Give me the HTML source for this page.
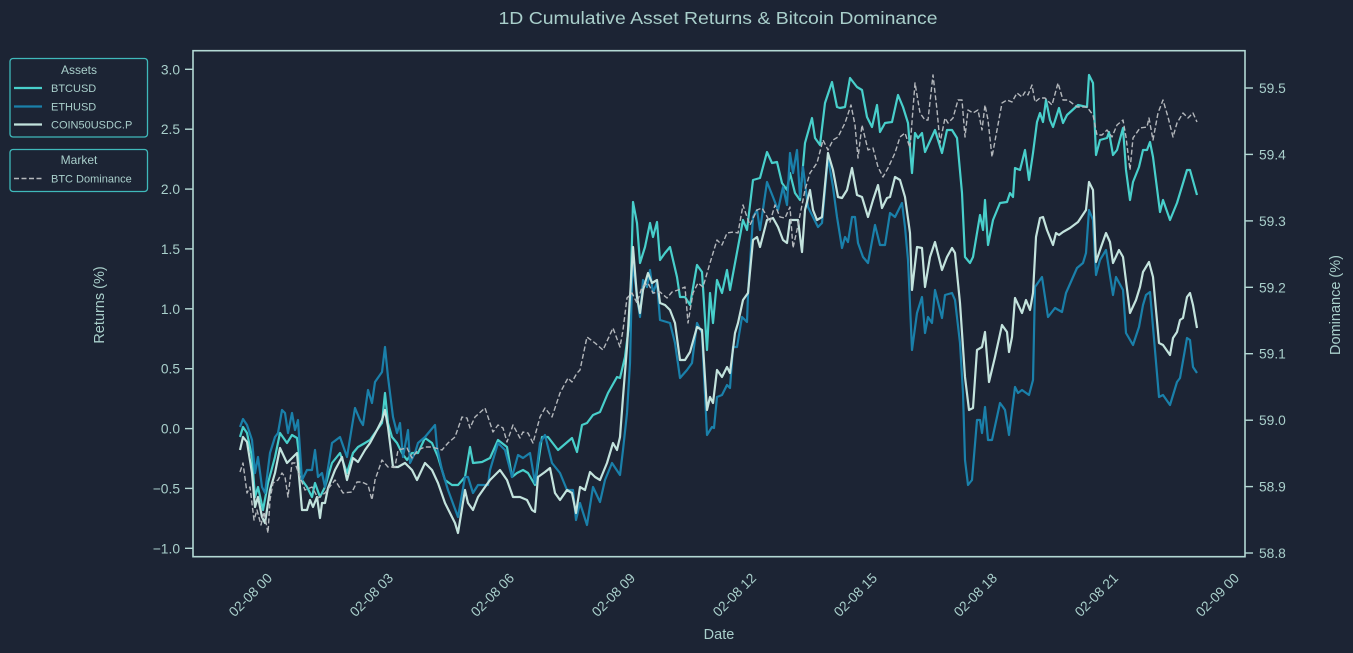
<!DOCTYPE html>
<html><head><meta charset="utf-8"><style>
html,body{margin:0;padding:0;background:#1c2434;}
svg{display:block;}
text{font-family:"Liberation Sans",Arial,sans-serif;fill:#a9cfcb;}
</style></head><body>
<svg width="1353" height="653" viewBox="0 0 1353 653" xmlns="http://www.w3.org/2000/svg">
<rect x="0" y="0" width="1353" height="653" fill="#1c2434"/>
<text x="718" y="24" font-size="17.5" text-anchor="middle" textLength="439" lengthAdjust="spacingAndGlyphs">1D Cumulative Asset Returns &amp; Bitcoin Dominance</text>

<!-- series -->
<g fill="none" stroke-linejoin="round" stroke-width="2.2">
<polyline stroke="#48cfcb" points="240,437 243,427 247,433 252,457 255,497 258,487 263,510 268,483 275,457 280,433 287,443 292,435 297,438 302,480 307,487 312,497 315,483 320,497 325,487 332,463 340,453 347,473 353,453 358,447 365,443 370,440 377,430 382,423 385,393 388,423 392,437 397,443 402,453 407,460 412,453 418,453 425,438 432,443 438,457 445,480 452,485 458,485 465,477 470,447 473,463 482,462 490,458 498,440 507,447 512,477 517,473 523,470 528,473 535,485 542,437 548,437 558,450 572,438 577,452 582,425 587,423 593,415 600,412 608,393 617,377 620,378 625,357 630,317 633,202 637,223 640,263 645,247 650,223 653,237 657,222 660,260 665,253 670,247 677,277 680,297 685,297 690,305 697,265 702,272 707,350 710,293 713,323 717,280 722,293 727,270 730,290 738,247 743,220 747,230 753,180 760,178 767,152 772,163 777,162 782,183 787,190 790,173 795,193 800,200 805,143 812,118 815,138 820,145 825,103 832,82 837,107 840,108 845,107 850,78 857,87 862,90 867,117 872,127 877,105 880,132 885,123 892,122 898,95 903,107 908,123 912,173 915,133 918,138 922,133 925,152 935,130 942,153 947,130 952,130 957,138 962,193 965,257 970,263 973,257 980,215 983,230 985,200 988,245 993,220 1000,203 1007,202 1010,193 1013,197 1015,168 1020,170 1025,150 1029,180 1033,153 1037,122 1040,113 1043,122 1046,100 1050,120 1053,127 1059,108 1063,123 1067,115 1078,105 1087,107 1089,75 1093,83 1096,155 1100,140 1107,138 1109,132 1113,155 1117,150 1123,128 1126,170 1130,200 1133,182 1139,167 1143,150 1147,150 1150,142 1153,157 1160,212 1163,200 1170,220 1177,203 1187,170 1190,170 1197,195"/>
<polyline stroke="#1a80aa" points="240,427 243,419 247,425 252,440 255,473 258,457 262,487 265,493 270,453 275,437 278,433 282,410 285,413 288,433 292,413 295,430 298,420 302,480 307,470 312,470 315,450 318,477 322,473 325,487 332,443 340,437 347,457 355,408 360,420 363,425 368,390 372,403 375,382 382,372 385,347 388,377 393,417 397,433 400,423 403,457 408,430 410,463 415,453 418,443 425,437 435,425 437,447 442,470 448,490 458,517 465,477 468,477 473,493 478,485 488,485 490,470 498,443 505,450 512,477 518,455 523,458 530,453 535,483 540,443 545,435 552,463 560,473 567,490 573,490 576,520 580,503 587,525 593,487 600,502 605,480 612,463 620,475 623,450 627,413 630,363 632,280 633,263 637,297 640,317 643,280 647,287 650,270 653,293 657,282 660,320 670,323 675,343 680,378 687,370 692,363 697,323 702,333 707,435 712,427 714,428 717,397 722,395 727,385 730,388 733,347 737,347 742,317 747,322 748,295 753,217 757,210 760,230 767,182 773,197 778,210 783,187 787,205 790,153 793,173 797,150 800,197 803,167 808,207 813,217 818,227 822,223 828,157 833,187 837,217 842,248 845,237 848,242 852,217 855,217 858,243 863,257 868,263 875,225 880,245 885,245 890,213 895,217 902,203 905,227 908,260 912,350 917,313 922,297 925,333 928,317 932,323 935,290 942,318 945,295 952,293 955,300 960,343 963,393 965,460 968,485 972,480 977,420 980,420 982,433 985,407 988,440 992,440 1000,403 1003,407 1005,410 1009,435 1015,387 1018,393 1022,390 1029,395 1033,380 1035,287 1042,277 1048,317 1055,308 1062,312 1066,293 1077,268 1083,263 1086,253 1089,210 1093,220 1096,275 1100,260 1106,250 1113,295 1116,277 1123,290 1126,333 1133,345 1139,327 1143,305 1146,295 1150,292 1159,397 1163,395 1170,405 1177,382 1180,378 1187,338 1190,340 1193,367 1197,373"/>
<polyline stroke="#c3e3dd" points="240,450 243,437 247,442 252,473 255,507 258,497 262,517 265,523 270,490 275,473 280,448 287,463 297,453 302,510 307,510 310,500 313,507 317,497 320,518 322,503 325,503 328,488 335,470 342,457 347,480 353,458 358,462 365,450 370,443 377,430 382,420 385,410 388,427 393,467 398,467 405,463 412,470 417,480 425,463 432,470 438,483 445,503 455,523 458,533 465,490 468,503 473,510 478,497 485,487 490,480 500,470 507,480 513,497 520,497 527,500 532,510 535,512 538,477 545,472 550,468 555,493 560,500 567,490 572,493 576,513 580,487 585,490 590,472 595,477 600,480 607,463 613,443 617,450 620,437 623,397 627,347 630,297 633,247 637,297 640,313 643,290 648,273 652,283 657,280 660,303 665,305 670,310 675,323 680,360 685,360 690,352 697,327 702,330 707,410 710,397 713,403 717,370 722,377 727,367 730,373 735,333 738,323 743,300 748,293 753,240 757,237 760,247 767,220 773,218 778,227 783,240 787,243 790,220 795,220 798,220 802,252 805,210 810,190 813,210 817,220 822,217 828,153 833,170 838,197 842,198 847,190 852,168 857,195 862,197 868,217 873,200 878,185 882,208 887,198 890,197 895,177 900,180 905,197 910,233 912,290 917,247 922,248 925,287 930,257 935,242 942,270 947,257 952,248 955,253 960,303 965,377 969,410 973,408 977,350 982,347 985,332 989,382 995,357 1002,325 1007,332 1009,352 1012,337 1015,298 1022,313 1026,300 1030,310 1033,293 1036,237 1040,218 1043,217 1047,230 1053,245 1056,233 1059,235 1063,232 1070,228 1078,222 1086,210 1089,182 1093,190 1096,262 1100,250 1106,233 1110,242 1113,263 1119,250 1123,257 1130,313 1136,300 1140,287 1143,272 1149,262 1153,277 1159,343 1163,345 1170,355 1173,338 1177,332 1180,320 1183,318 1187,297 1190,293 1193,305 1197,328"/>
<polyline stroke="#b4b8bc" stroke-width="1.4" stroke-dasharray="5,2.5" points="240,472 243,463 247,493 250,487 254,520 257,510 261,525 264,512 268,533 270,500 273,483 278,480 282,473 285,477 288,497 292,463 295,463 300,477 305,490 312,487 318,498 325,493 335,480 343,493 352,492 357,482 362,482 368,485 372,500 375,480 382,460 388,467 395,467 398,450 407,448 412,458 418,450 425,447 432,447 442,450 448,443 455,437 462,417 467,418 470,428 475,417 485,408 490,423 493,432 498,425 503,428 507,442 513,425 520,438 523,432 528,433 533,443 540,417 545,408 552,417 560,393 568,378 572,382 577,373 580,370 587,337 595,343 603,350 613,328 620,347 623,330 627,298 632,293 637,303 642,287 648,283 653,293 660,292 667,298 672,292 678,290 685,287 688,323 693,293 698,283 703,287 710,263 717,240 722,245 727,233 733,232 738,233 743,205 747,217 750,225 757,210 762,208 765,213 770,222 775,205 780,217 785,218 790,207 793,248 797,230 805,190 810,173 817,163 823,140 828,150 833,140 838,137 845,123 851,105 855,125 858,158 862,125 868,150 873,148 878,167 883,177 888,168 895,153 900,137 905,133 910,148 915,83 920,113 925,120 928,120 933,75 937,110 940,143 945,118 948,123 953,118 958,100 962,100 965,137 968,110 973,113 978,110 982,130 985,105 988,120 992,157 1002,103 1007,100 1012,102 1017,93 1022,97 1025,92 1028,95 1032,85 1035,102 1040,98 1045,98 1052,105 1058,83 1063,100 1068,100 1077,107 1087,107 1093,115 1097,135 1102,135 1107,130 1112,137 1117,125 1123,120 1126,137 1130,170 1133,138 1140,128 1147,127 1149,118 1153,140 1158,113 1163,100 1168,117 1173,137 1177,123 1183,113 1188,118 1193,113 1197,122"/>
</g>

<!-- axes box -->
<rect x="193" y="50.7" width="1052" height="506" fill="none" stroke="#b3d9d4" stroke-width="1.6"/>

<!-- left ticks -->
<g stroke="#b3d9d4" stroke-width="1.4">
<line x1="185" y1="69.3" x2="193" y2="69.3"/><line x1="185" y1="129.2" x2="193" y2="129.2"/><line x1="185" y1="189.1" x2="193" y2="189.1"/><line x1="185" y1="248.9" x2="193" y2="248.9"/><line x1="185" y1="308.8" x2="193" y2="308.8"/><line x1="185" y1="368.7" x2="193" y2="368.7"/><line x1="185" y1="428.6" x2="193" y2="428.6"/><line x1="185" y1="488.4" x2="193" y2="488.4"/><line x1="185" y1="548.3" x2="193" y2="548.3"/>
<line x1="1245" y1="88" x2="1253" y2="88"/><line x1="1245" y1="154.4" x2="1253" y2="154.4"/><line x1="1245" y1="220.9" x2="1253" y2="220.9"/><line x1="1245" y1="287.3" x2="1253" y2="287.3"/><line x1="1245" y1="353.7" x2="1253" y2="353.7"/><line x1="1245" y1="420.2" x2="1253" y2="420.2"/><line x1="1245" y1="486.6" x2="1253" y2="486.6"/><line x1="1245" y1="553" x2="1253" y2="553"/>
</g>
<g font-size="13.8" text-anchor="end">
<text x="180" y="74.3">3.0</text><text x="180" y="134.2">2.5</text><text x="180" y="194.1">2.0</text><text x="180" y="253.9">1.5</text><text x="180" y="313.8">1.0</text><text x="180" y="373.7">0.5</text><text x="180" y="433.6">0.0</text><text x="180" y="493.4">−0.5</text><text x="180" y="553.3">−1.0</text>
</g>
<g font-size="13.8">
<text x="1259" y="93">59.5</text><text x="1259" y="159.4">59.4</text><text x="1259" y="225.9">59.3</text><text x="1259" y="292.3">59.2</text><text x="1259" y="358.7">59.1</text><text x="1259" y="425.2">59.0</text><text x="1259" y="491.6">58.9</text><text x="1259" y="558">58.8</text>
</g>

<!-- x tick labels -->
<g font-size="13.8" text-anchor="end">
<text transform="translate(273,579) rotate(-45)">02-08 00</text>
<text transform="translate(394,579) rotate(-45)">02-08 03</text>
<text transform="translate(515,579) rotate(-45)">02-08 06</text>
<text transform="translate(636,579) rotate(-45)">02-08 09</text>
<text transform="translate(757,579) rotate(-45)">02-08 12</text>
<text transform="translate(878,579) rotate(-45)">02-08 15</text>
<text transform="translate(998,579) rotate(-45)">02-08 18</text>
<text transform="translate(1119,579) rotate(-45)">02-08 21</text>
<text transform="translate(1240,579) rotate(-45)">02-09 00</text>
</g>

<text x="719" y="639" font-size="14.5" text-anchor="middle">Date</text>
<text transform="translate(104,305) rotate(-90)" font-size="14.5" text-anchor="middle">Returns (%)</text>
<text transform="translate(1340,305) rotate(-90)" font-size="14.5" text-anchor="middle">Dominance (%)</text>

<!-- legends -->
<rect x="10" y="58.5" width="137.5" height="78.5" rx="3" fill="#1c2434" stroke="#3fb9ba" stroke-width="1.3"/>
<text x="79" y="74" font-size="12" text-anchor="middle">Assets</text>
<line x1="14" y1="88" x2="42" y2="88" stroke="#48cfcb" stroke-width="2.2"/>
<text x="51" y="92" font-size="11" fill="#c8e0dd">BTCUSD</text>
<line x1="14" y1="106.5" x2="42" y2="106.5" stroke="#1a80aa" stroke-width="2.2"/>
<text x="51" y="110.5" font-size="11" fill="#c8e0dd">ETHUSD</text>
<line x1="14" y1="124.5" x2="42" y2="124.5" stroke="#c3e3dd" stroke-width="2.2"/>
<text x="51" y="128.5" font-size="11" fill="#c8e0dd">COIN50USDC.P</text>

<rect x="10" y="149.5" width="137.5" height="42" rx="3" fill="#1c2434" stroke="#3fb9ba" stroke-width="1.3"/>
<text x="79" y="164" font-size="12" text-anchor="middle">Market</text>
<line x1="14" y1="178.5" x2="42" y2="178.5" stroke="#b4b8bc" stroke-width="1.4" stroke-dasharray="5,2.5"/>
<text x="51" y="182.5" font-size="11" fill="#c8e0dd">BTC Dominance</text>
</svg>
</body></html>
